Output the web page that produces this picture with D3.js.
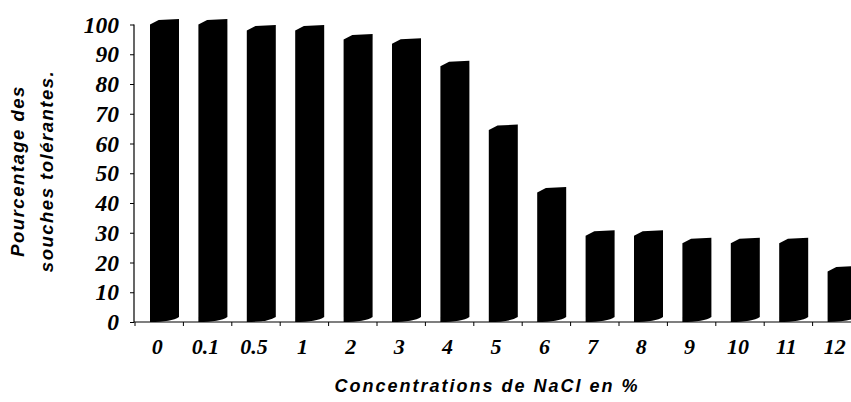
<!DOCTYPE html>
<html><head><meta charset="utf-8">
<script src="https://cdn.jsdelivr.net/npm/d3@7"></script>
<style>html,body{margin:0;padding:0;background:#fff;}svg{display:block;}</style>
</head><body>
<svg id="chart" width="851" height="402"></svg>
<script>
const categories = ["0","0.1","0.5","1","2","3","4","5","6","7","8","9","10","11","12"];
const values = [100,100,98,98,95,93.5,86,64.5,43.5,29,29,26.5,26.5,26.5,17];
const yTicks = [0,10,20,30,40,50,60,70,80,90,100];
const xTitle = "Concentrations de NaCl en %";
const yTitle = ["Pourcentage des","souches tolérantes."];

const svg = d3.select("#chart");
const x = d3.scaleBand().domain(categories).range([135, 861]).padding(0);
const y = d3.scaleLinear().domain([0,100]).range([322, 24.5]);
const barOff = 15, barW = 29, depth = 5;

// bars
svg.append("g").selectAll("path").data(values).join("path")
  .attr("fill","#000")
  .attr("d",(v,i)=>{
    const x0 = x(categories[i]) + barOff, x1 = x0 + barW;
    const yv = y(v), y0 = y(0);
    return `M${x0},${y0} L${x0},${yv} L${x0+barW*0.3},${yv-depth+0.5} L${x1},${yv-depth-0.5} L${x1},${y0-depth} Q${x1-barW*0.25},${y0} ${x0},${y0} Z`;
  });

// y axis
const yAxis = svg.append("g").attr("transform","translate(134,0)")
  .call(d3.axisLeft(y).tickValues(yTicks).tickSize(4).tickPadding(11));
yAxis.select(".domain").attr("d",`M0,${y(100)}V${y(0)}`).attr("stroke","#000").attr("stroke-width",1.2);
yAxis.selectAll(".tick line").attr("stroke","#000");
yAxis.selectAll("text").attr("font-family","'Liberation Serif', serif")
  .attr("font-weight","bold").attr("font-style","italic").attr("font-size",23.5).attr("fill","#000");

// x axis line and boundary ticks
svg.append("line").attr("x1",134).attr("x2",851).attr("y1",y(0)).attr("y2",y(0))
  .attr("stroke","#000").attr("stroke-width",1.2);
svg.append("g").selectAll("line").data(categories).join("line")
  .attr("x1",d=>x(d)).attr("x2",d=>x(d)).attr("y1",y(0)).attr("y2",y(0)+4)
  .attr("stroke","#000");
const xAxis = svg.append("g").attr("transform",`translate(0,${y(0)})`)
  .call(d3.axisBottom(x).tickSize(0).tickPadding(16));
xAxis.select(".domain").remove();
xAxis.selectAll("text").attr("font-family","'Liberation Serif', serif")
  .attr("font-weight","bold").attr("font-style","italic").attr("font-size",22).attr("fill","#000")
  .attr("dx",-2);

// titles
svg.append("text").attr("x",487).attr("y",392).attr("text-anchor","middle")
  .attr("font-family","'Liberation Sans', Arial, sans-serif").attr("font-weight","bold")
  .attr("font-style","italic").attr("font-size",18).attr("letter-spacing",2).text(xTitle);
svg.append("text").attr("transform","translate(24,171) rotate(-90)").attr("text-anchor","middle")
  .attr("font-family","'Liberation Sans', Arial, sans-serif").attr("font-weight","bold")
  .attr("font-style","italic").attr("font-size",18.5).attr("letter-spacing",1.5)
  .selectAll("tspan").data(yTitle).join("tspan")
  .attr("x",0).attr("dy",(d,i)=>i===0?0:29).text(d=>d);
</script>
</body></html>
